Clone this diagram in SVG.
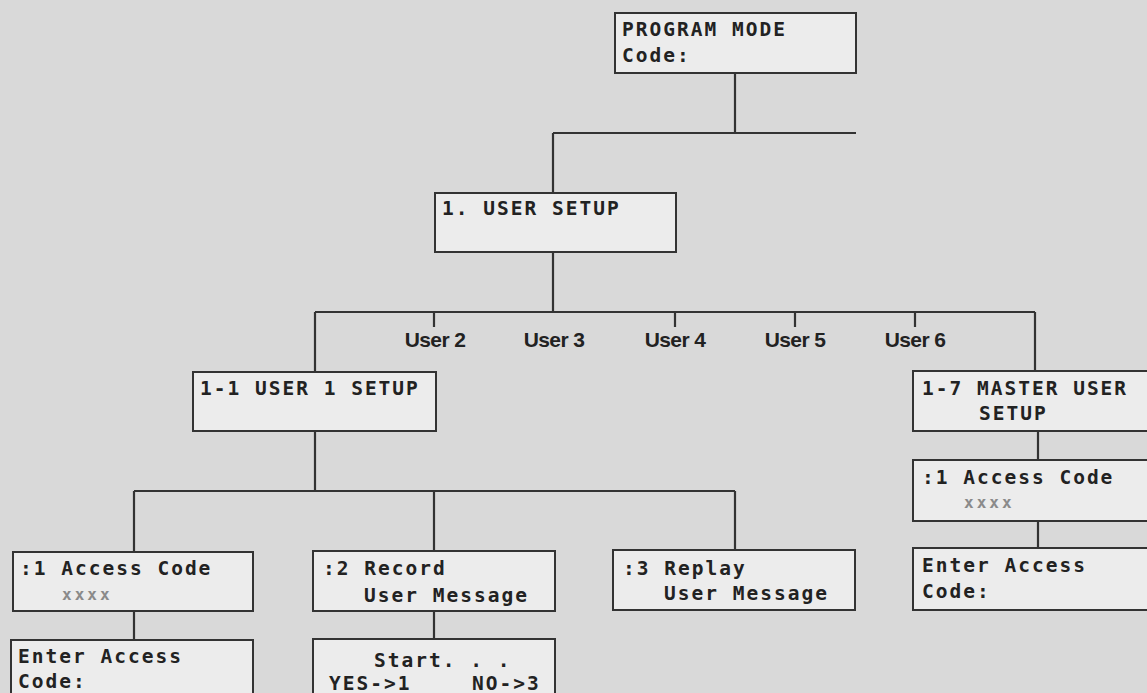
<svg xmlns="http://www.w3.org/2000/svg" width="1147" height="693" viewBox="0 0 1147 693">
<style>
.bg{fill:#d9d9d9}
.box{fill:#ececec;stroke:#333;stroke-width:2}
.ln{stroke:#333;stroke-width:2.2;fill:none}
.t{font-family:"DejaVu Sans Mono","Liberation Mono",monospace;font-weight:bold;font-size:19.5px;letter-spacing:2px;fill:#222}
.g{fill:#8a8a8a;font-size:16px;letter-spacing:3px}
.u{font-family:"Liberation Sans",Arial,sans-serif;font-weight:bold;font-size:21px;fill:#222;text-anchor:middle;letter-spacing:-0.6px}
</style>
<rect class="bg" x="0" y="0" width="1147" height="693"/>
<g id="connectors">
<path class="ln" d="M735 73V133M553 133H856M553 133V193M553 252V312M315 312H1035M315 312V372M434 312V327M675 312V327M795 312V327M915 312V327M1035 312V371M315 431V491M134 491H735M134 491V552M434 491V551M735 491V550M134 611V640M434 611V639M1038 431V460M1038 521V548"/>
</g>
<g id="program-mode">
<rect class="box" x="615" y="13" width="241" height="60"/>
<text class="t" x="622" y="36">PROGRAM MODE</text>
<text class="t" x="622" y="62">Code:</text>
</g>
<g id="user-setup">
<rect class="box" x="435" y="193" width="241" height="59"/>
<text class="t" x="442" y="215">1. USER SETUP</text>
</g>
<g id="user-labels">
<text class="u" x="435" y="347">User 2</text>
<text class="u" x="554" y="347">User 3</text>
<text class="u" x="675" y="347">User 4</text>
<text class="u" x="795" y="347">User 5</text>
<text class="u" x="915" y="347">User 6</text>
</g>
<g id="user1-setup">
<rect class="box" x="193" y="372" width="243" height="59"/>
<text class="t" x="200" y="395">1-1 USER 1 SETUP</text>
</g>
<g id="master-setup">
<rect class="box" x="913" y="371" width="240" height="60"/>
<text class="t" x="922" y="395">1-7 MASTER USER</text>
<text class="t" x="979" y="420">SETUP</text>
</g>
<g id="master-access">
<rect class="box" x="913" y="460" width="240" height="61"/>
<text class="t" x="922" y="484">:1 Access Code</text>
<text class="t g" x="964" y="508">xxxx</text>
</g>
<g id="master-enter">
<rect class="box" x="913" y="548" width="240" height="62"/>
<text class="t" x="922" y="572">Enter Access</text>
<text class="t" x="922" y="598">Code:</text>
</g>
<g id="access-code">
<rect class="box" x="13" y="552" width="240" height="59"/>
<text class="t" x="20" y="575">:1 Access Code</text>
<text class="t g" x="62" y="600">xxxx</text>
</g>
<g id="enter-access">
<rect class="box" x="11" y="640" width="242" height="60"/>
<text class="t" x="18" y="663">Enter Access</text>
<text class="t" x="18" y="688">Code:</text>
</g>
<g id="record">
<rect class="box" x="313" y="551" width="242" height="60"/>
<text class="t" x="323" y="575">:2 Record</text>
<text class="t" x="364" y="602">User Message</text>
</g>
<g id="start">
<rect class="box" x="313" y="639" width="242" height="60"/>
<text class="t" x="374" y="667">Start. . .</text>
<text class="t" x="329" y="690">YES-&gt;1</text>
<text class="t" x="472" y="690">NO-&gt;3</text>
</g>
<g id="replay">
<rect class="box" x="613" y="550" width="242" height="60"/>
<text class="t" x="623" y="575">:3 Replay</text>
<text class="t" x="664" y="600">User Message</text>
</g>
</svg>
